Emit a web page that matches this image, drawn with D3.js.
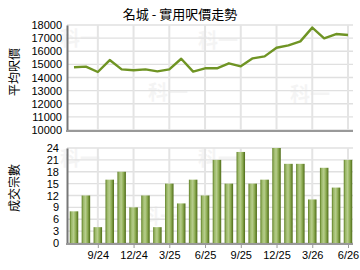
<!DOCTYPE html>
<html>
<head>
<meta charset="utf-8">
<script src="https://cdn.jsdelivr.net/npm/d3@7"></script>
<style>
  body { margin: 0; background: #fff; }
  svg { display: block; }
  .tick text { font-family: "Liberation Sans", Arial, sans-serif; font-size: 11px; fill: #000; }
</style>
</head>
<body>
<svg width="360" height="270"></svg>
<script>
const months = ['7/24','8/24','9/24','10/24','11/24','12/24','1/25','2/25','3/25','4/25','5/25','6/25',
  '7/25','8/25','9/25','10/25','11/25','12/25','1/26','2/26','3/26','4/26','5/26','6/26']
const prices = [14780, 14830, 14420, 15330, 14620, 14550, 14620, 14470, 14620, 15430, 14450, 14700,
  14700, 15080, 14850, 15460, 15610, 16270, 16450, 16750, 17800, 16980, 17310, 17240]
const deals = [8, 12, 4, 16, 18, 9, 12, 4, 15, 10, 16, 12, 21, 15, 23, 15, 16, 24, 20, 20, 11, 19, 14, 21]
const tickMonths = ['9/24','12/24','3/25','6/25','9/25','12/25','3/26','6/26']
const priceTicks = d3.range(10000, 18001, 1000)
const dealTicks = d3.range(0, 25, 3)

const svg = d3.select('svg')
const cjk = '"Noto Sans CJK TC", "Noto Sans CJK SC", sans-serif'
const plotLeft = 67, plotRight = 353
const top1 = { y0: 25, y1: 130 }
const top2 = { y0: 148, y1: 243 }

const x = d3.scaleLinear().domain([0, months.length - 1]).range([74, 348])
const tickIdx = tickMonths.map(m => months.indexOf(m))

const yPrice = d3.scaleLinear().domain([10000, 18000]).range([top1.y1, top1.y0])
const yDeals = d3.scaleLinear().domain([0, 24]).range([top2.y1, top2.y0])

// gradient for bars
const grad = svg.append('defs').append('linearGradient')
  .attr('id', 'barg').attr('x1', 0).attr('x2', 1).attr('y1', 0).attr('y2', 0)
grad.selectAll('stop')
  .data([[0, '#5d7d22'], [0.2, '#9bb868'], [0.45, '#b7cd8c'], [0.7, '#8fae55'], [1, '#4e6b17']])
  .enter().append('stop')
  .attr('offset', d => d[0]).attr('stop-color', d => d[1])

// watermark
const wm = [[80, 46], [168, 100], [218, 48], [310, 102], [80, 166], [160, 224], [218, 166], [305, 230]]
svg.selectAll('.wm').data(wm).enter().append('text')
  .attr('x', d => d[0]).attr('y', d => d[1])
  .attr('text-anchor', 'middle')
  .style('font-family', cjk).style('font-size', '20px').style('font-weight', 'bold')
  .attr('fill', '#000').attr('opacity', 0.04)
  .text('科一')

function grid(yScale, ticks, box) {
  const g = svg.append('g')
  g.selectAll('.hg').data(ticks).enter().append('line')
    .attr('x1', plotLeft).attr('x2', plotRight)
    .attr('y1', d => yScale(d)).attr('y2', d => yScale(d))
    .attr('stroke', '#e0e0e0').attr('stroke-width', 1.3)
  g.selectAll('.vg').data(tickIdx).enter().append('line')
    .attr('x1', d => x(d)).attr('x2', d => x(d))
    .attr('y1', box.y0).attr('y2', box.y1)
    .attr('stroke', '#e4e4e4').attr('stroke-width', 2)
}

grid(yPrice, priceTicks, top1)
grid(yDeals, dealTicks, top2)

// price line
const line = d3.line().x((d, i) => x(i)).y(d => yPrice(d))
svg.append('path')
  .datum(prices)
  .attr('d', line)
  .attr('fill', 'none')
  .attr('stroke', '#6f9424')
  .attr('stroke-width', 2.4)
  .attr('stroke-linejoin', 'round')

// bars
const bw = 8.5
svg.selectAll('.bar').data(deals).enter().append('rect')
  .attr('x', (d, i) => x(i) - bw / 2)
  .attr('y', d => yDeals(d))
  .attr('width', bw)
  .attr('height', d => yDeals(0) - yDeals(d))
  .attr('fill', 'url(#barg)')

// axes
const yAx1 = svg.append('g').attr('transform', `translate(${plotLeft},0)`)
  .call(d3.axisLeft(yPrice).tickValues(priceTicks).tickSize(0).tickPadding(5).tickFormat(d3.format('d')))
const yAx2 = svg.append('g').attr('transform', `translate(${plotLeft},0)`)
  .call(d3.axisLeft(yDeals).tickValues(dealTicks).tickSize(0).tickPadding(8))
;[yAx1, yAx2].forEach(a => a.select('.domain').attr('stroke', '#777').attr('stroke-width', 2))

// bottom axis lines
svg.append('line').attr('x1', plotLeft - 1).attr('x2', plotRight)
  .attr('y1', top1.y1 + 1).attr('y2', top1.y1 + 1).attr('stroke', '#999').attr('stroke-width', 2)

const xAx = svg.append('g').attr('transform', `translate(0,${top2.y1 + 1})`)
  .call(d3.axisBottom(x).tickValues(tickIdx).tickFormat(i => months[i]).tickSize(4).tickPadding(3).tickSizeOuter(0))
xAx.select('.domain').attr('d', `M${plotLeft - 1},0H${plotRight}`).attr('stroke', '#999').attr('stroke-width', 2)
xAx.selectAll('.tick line').attr('stroke', '#999')

// titles
svg.append('text').attr('x', 180).attr('y', 19).attr('text-anchor', 'middle')
  .style('font-family', cjk).style('font-size', '13px').text('名城 - 實用呎價走勢')

svg.append('text').attr('transform', 'translate(19,72) rotate(-90)').attr('text-anchor', 'middle')
  .style('font-family', cjk).style('font-size', '12px').text('平均呎價')
svg.append('text').attr('transform', 'translate(19,188) rotate(-90)').attr('text-anchor', 'middle')
  .style('font-family', cjk).style('font-size', '12px').text('成交宗數')
</script>
</body>
</html>
